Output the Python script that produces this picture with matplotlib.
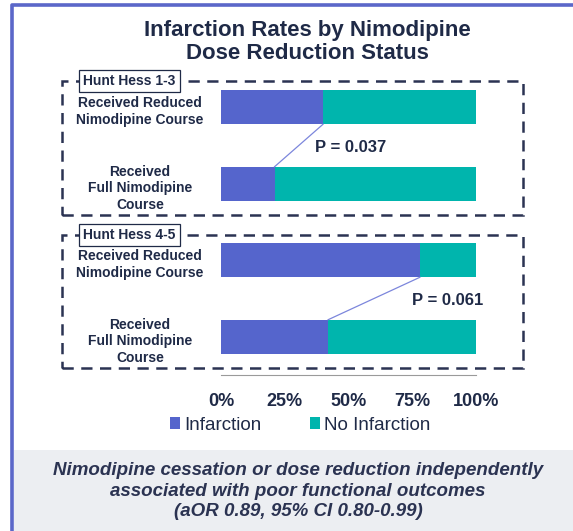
import matplotlib
matplotlib.use("Agg")
import matplotlib.pyplot as plt
from matplotlib.patches import Rectangle
from matplotlib.lines import Line2D
from matplotlib.transforms import blended_transform_factory

plt.rcParams['font.family'] = ['Liberation Sans', 'DejaVu Sans']

# ---- data ----
groups = ["Hunt Hess 1-3", "Hunt Hess 4-5"]
row_labels = ["Received Reduced\nNimodipine Course",
              "Received\nFull Nimodipine\nCourse",
              "Received Reduced\nNimodipine Course",
              "Received\nFull Nimodipine\nCourse"]
infarction = [40, 21, 78, 42]
no_infarction = [100 - v for v in infarction]
p_values = ["P = 0.037", "P = 0.061"]
x_ticks = [0, 25, 50, 75, 100]
x_tick_labels = ["0%", "25%", "50%", "75%", "100%"]

C_INF = "#5565cc"
C_NO = "#00b5ad"
C_TXT = "#1f2a47"
C_FRAME = "#5b67c9"

W, H = 573, 531
fig = plt.figure(figsize=(W / 100, H / 100), dpi=100)


def fx(px):
    return px / W


def fy(py):
    return 1 - py / H


# outer frame (left + top) and grey footer panel
fig.add_artist(Rectangle((fx(14), 0), 1, fy(450), transform=fig.transFigure,
                         facecolor="#eceef2", edgecolor="none", zorder=0))
fig.add_artist(Line2D([fx(12), fx(12), 1], [0, fy(5), fy(5)], transform=fig.transFigure,
                      color=C_FRAME, lw=2.6, zorder=1))

# title
fig.text(fx(307), fy(42), "Infarction Rates by Nimodipine\nDose Reduction Status",
         ha="center", va="center", fontsize=16, fontweight="bold", color=C_TXT,
         linespacing=1.1)

# bar axes: 0..100% spans px 221..476
ax = fig.add_axes([fx(221), fy(375), (476 - 221) / W, (375 - 69) / H])
ypos = list(range(len(infarction)))
bh = 0.445
b1 = ax.barh(ypos, infarction, height=bh, color=C_INF, label="Infarction")
b2 = ax.barh(ypos, no_infarction, left=infarction, height=bh, color=C_NO, label="No Infarction")
ax.set_xlim(0, 100)
ax.set_ylim(3.5, -0.5)
ax.set_yticks([])
ax.set_xticks(x_ticks)
ax.set_xticklabels(x_tick_labels, fontsize=13, fontweight="bold", color=C_TXT)
ax.tick_params(axis="x", length=0, pad=13)
for s in ["top", "right", "left"]:
    ax.spines[s].set_visible(False)
ax.spines["bottom"].set_color("#9a9a9a")
ax.spines["bottom"].set_linewidth(0.8)

# row labels
tr = blended_transform_factory(fig.transFigure, ax.transData)
for y, lab in zip(ypos, row_labels):
    ax.text(fx(140), y + 0.06, lab, transform=tr, ha="center", va="center",
            fontsize=10, fontweight="bold", color=C_TXT, linespacing=1.25)

# connector lines and p-values
for g, p in enumerate(p_values):
    top, bot = 2 * g, 2 * g + 1
    ax.plot([infarction[top], infarction[bot]], [top + bh / 2, bot - bh / 2],
            color="#7c86dc", lw=0.9, clip_on=False)
    xm = max(infarction[top], infarction[bot])
    ax.text(xm + 11, top + 0.52, p, ha="center", va="center",
            fontsize=12, fontweight="bold", color=C_TXT)

# dashed group boxes with labels
for g, (ytop, ybot) in enumerate([(81, 215), (235, 368)]):
    fig.add_artist(Rectangle((fx(62), fy(ybot)), (523 - 62) / W, (ybot - ytop) / H,
                             transform=fig.transFigure, fill=False, edgecolor="#2b3352",
                             lw=1.8, linestyle=(0, (4.5, 3)), zorder=2))
    fig.text(fx(83), fy(ytop), groups[g], ha="left", va="center", fontsize=10,
             fontweight="bold", color=C_TXT, zorder=3,
             bbox=dict(boxstyle="square,pad=0.3", facecolor="white", edgecolor=C_TXT, lw=0.9))

# legend
fig.legend(handles=[b1, b2], loc="center", bbox_to_anchor=(fx(300), fy(425)), ncol=2,
           frameon=False, fontsize=13.5, handlelength=0.55, handleheight=0.55,
           handletextpad=0.2, columnspacing=2.6, labelcolor=C_TXT)

# footer note
fig.text(fx(298), fy(491),
         "Nimodipine cessation or dose reduction independently\n"
         "associated with poor functional outcomes\n(aOR 0.89, 95% CI 0.80-0.99)",
         ha="center", va="center", fontsize=13.5, fontweight="bold", style="italic",
         color="#2b3352", linespacing=1.3)

fig.savefig("out.png", dpi=100)
